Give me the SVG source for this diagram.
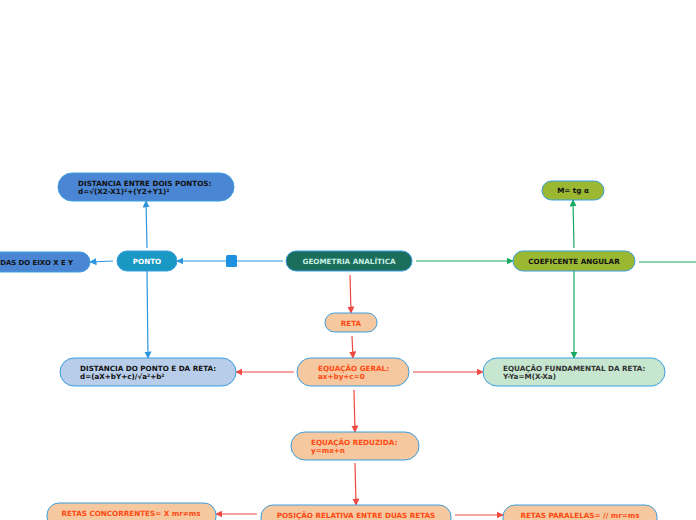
<svg xmlns="http://www.w3.org/2000/svg" width="696" height="520" viewBox="0 0 696 520">
<defs>
<style>
text{font-family:"DejaVu Sans","Liberation Sans",sans-serif;font-weight:bold;font-size:7.2px}
.n{stroke:#3a9ee0;stroke-width:1}
.blue{fill:#4a86d4}
.teal{fill:#1a98c4}
.dg{fill:#1b6e5c}
.ol{fill:#9bb833}
.pe{fill:#f6c8a0}
.lb{fill:#b8cde9}
.lg{fill:#c6e6d0}
.cb{stroke:#2b96dc;stroke-width:1.2;fill:none}
.cg{stroke:#18a860;stroke-width:1.2;fill:none}
.cr{stroke:#ee4a40;stroke-width:1.2;fill:none}
.tk{fill:#111}
.tw{fill:#fff}
.to{fill:#ff4a12}
</style>
<marker id="ab" viewBox="0 0 10 10" refX="9" refY="5" markerWidth="6" markerHeight="6" orient="auto"><path d="M0,0L10,5L0,10z" fill="#2b96dc"/></marker>
<marker id="ag" viewBox="0 0 10 10" refX="9" refY="5" markerWidth="6" markerHeight="6" orient="auto"><path d="M0,0L10,5L0,10z" fill="#18a860"/></marker>
<marker id="ar" viewBox="0 0 10 10" refX="9" refY="5" markerWidth="6" markerHeight="6" orient="auto"><path d="M0,0L10,5L0,10z" fill="#ee4a40"/></marker>
</defs>
<rect width="696" height="520" fill="#fff"/>
<g id="connectors">
<path class="cb" d="M147,248L146,201" marker-end="url(#ab)"/>
<path class="cb" d="M113,261L90,262" marker-end="url(#ab)"/>
<path class="cb" d="M147,271L148,358" marker-end="url(#ab)"/>
<path class="cb" d="M283,261L177,261" marker-end="url(#ab)"/>
<rect x="226" y="255" width="11" height="12" rx="1.5" fill="#1e90e0"/>
<path class="cg" d="M416,261L513,261" marker-end="url(#ag)"/>
<path class="cg" d="M574,248L573,200" marker-end="url(#ag)"/>
<path class="cg" d="M574,271L574,358" marker-end="url(#ag)"/>
<path class="cg" d="M639,262L696,262"/>
<path class="cr" d="M350,275L351,313" marker-end="url(#ar)"/>
<path class="cr" d="M352,336L353,358" marker-end="url(#ar)"/>
<path class="cr" d="M294,372L236,372" marker-end="url(#ar)"/>
<path class="cr" d="M413,372L483,372" marker-end="url(#ar)"/>
<path class="cr" d="M354,390L355,432" marker-end="url(#ar)"/>
<path class="cr" d="M355,463L356,505" marker-end="url(#ar)"/>
<path class="cr" d="M257,514L216,514" marker-end="url(#ar)"/>
<path class="cr" d="M455,515L503,515" marker-end="url(#ar)"/>
</g>
<g id="dist-pontos"><rect class="n blue" x="58" y="173" width="176" height="28" rx="14"/><text class="tk" x="78" y="186">DISTANCIA ENTRE DOIS PONTOS:</text><text class="tk" x="78" y="194">d=√(X2-X1)²+(Y2+Y1)²</text></g>
<g id="coordenadas"><rect class="n blue" x="-40" y="252" width="130" height="20" rx="10"/><text class="tk" x="73" y="264.5" text-anchor="end" style="font-size:6.9px">DAS DO EIXO X E Y</text></g>
<g id="ponto"><rect class="n teal" x="117" y="251" width="60" height="20" rx="10"/><text class="tw" x="147" y="263.5" text-anchor="middle">PONTO</text></g>
<g id="geometria"><rect class="n dg" x="286" y="251" width="126" height="20" rx="10"/><text fill="#c8f0e2" x="349" y="263.5" text-anchor="middle">GEOMETRIA ANALÍTICA</text></g>
<g id="coeficiente"><rect class="n ol" x="513" y="251" width="122" height="20" rx="10"/><text class="tk" x="574" y="263.5" text-anchor="middle">COEFICENTE ANGULAR</text></g>
<g id="tg"><rect class="n ol" x="542" y="181" width="62" height="19" rx="9.5"/><text class="tk" x="573" y="193" text-anchor="middle">M= tg α</text></g>
<g id="reta"><rect class="n pe" x="325" y="313" width="52" height="19" rx="9.5"/><text class="to" x="351" y="325.5" text-anchor="middle">RETA</text></g>
<g id="eq-geral"><rect class="n pe" x="297" y="358" width="112" height="28" rx="14"/><text class="to" x="318" y="371">EQUAÇÃO GERAL:</text><text class="to" x="318" y="379">ax+by+c=0</text></g>
<g id="dist-reta"><rect class="n lb" x="60" y="358" width="176" height="28" rx="14"/><text class="tk" x="80" y="371">DISTANCIA DO PONTO E DA RETA:</text><text class="tk" x="80" y="379">d=(aX+bY+c)/√a²+b²</text></g>
<g id="eq-fund"><rect class="n lg" x="483" y="358" width="182" height="28" rx="14"/><text fill="#333" x="503" y="371">EQUAÇÃO FUNDAMENTAL DA RETA:</text><text fill="#333" x="503" y="379">Y-Ya=M(X-Xa)</text></g>
<g id="eq-reduzida"><rect class="n pe" x="291" y="432" width="128" height="28" rx="14"/><text class="to" x="311" y="445">EQUAÇÃO REDUZIDA:</text><text class="to" x="311" y="453">y=mx+n</text></g>
<g id="posicao"><rect class="n pe" x="261" y="505" width="190" height="26" rx="12"/><text class="to" x="356" y="517.5" text-anchor="middle">POSIÇÃO RELATIVA ENTRE DUAS RETAS</text></g>
<g id="concorrentes"><rect class="n pe" x="47" y="503" width="169" height="26" rx="12"/><text class="to" x="131" y="516" text-anchor="middle">RETAS CONCORRENTES= X mr≠ms</text></g>
<g id="paralelas"><rect class="n pe" x="503" y="505" width="154" height="26" rx="12"/><text class="to" x="580" y="518" text-anchor="middle">RETAS PARALELAS= // mr=ms</text></g>
</svg>
